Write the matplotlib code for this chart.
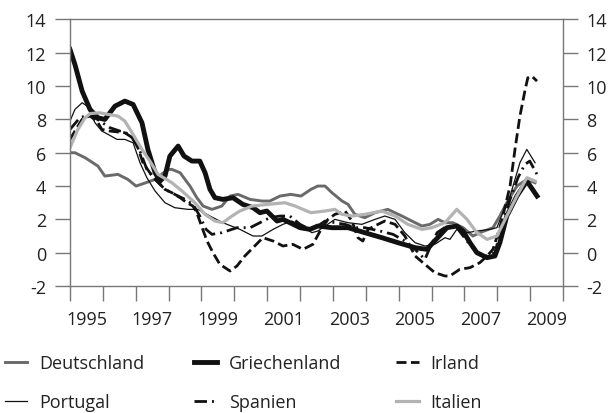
import matplotlib
matplotlib.use("Agg")
import matplotlib.pyplot as plt

plt.rcParams['font.family'] = ['Open Sans', 'DejaVu Sans']
plt.rcParams['axes.unicode_minus'] = False

# Monatswerte, x in Jahren
de_x = [1995.00, 1995.15, 1995.46, 1995.85, 1996.06, 1996.46, 1996.76, 1997.01, 1997.31, 1997.59,
        1997.98, 1998.10, 1998.35, 1998.65, 1998.86, 1999.05, 1999.32, 1999.62, 1999.87, 2000.11,
        2000.48, 2000.84, 2001.08, 2001.39, 2001.72, 2002.03, 2002.33, 2002.54, 2002.76, 2002.97,
        2003.28, 2003.46, 2003.67, 2003.97, 2004.28, 2004.67, 2005.10, 2005.40, 2005.71, 2005.95,
        2006.20, 2006.41, 2006.65, 2006.96, 2007.26, 2007.47, 2007.87, 2008.08, 2008.29, 2008.60,
        2008.90, 2009.15]
de_y = [6.0, 6.0, 5.7, 5.2, 4.6, 4.7, 4.4, 4.0, 4.2, 4.4,
        5.0, 5.0, 4.8, 4.0, 3.3, 2.8, 2.6, 2.8, 3.4, 3.5,
        3.2, 3.1, 3.1, 3.4, 3.5, 3.4, 3.8, 4.0, 4.0, 3.6,
        3.1, 2.9, 2.3, 2.1, 2.4, 2.6, 2.2, 1.9, 1.6, 1.7,
        2.0, 1.8, 1.8, 1.5, 1.0, 1.2, 1.5, 2.2, 3.0, 4.0,
        4.4, 4.2]

gr_x = [1995.00, 1995.15, 1995.37, 1995.61, 1995.85, 1996.06, 1996.37, 1996.67, 1996.92, 1997.19,
        1997.37, 1997.59, 1997.74, 1997.89, 1998.04, 1998.29, 1998.47, 1998.71, 1998.95, 1999.11,
        1999.26, 1999.41, 1999.65, 1999.96, 2000.26, 2000.57, 2000.78, 2000.99, 2001.30, 2001.48,
        2001.69, 2002.00, 2002.30, 2002.54, 2002.97, 2003.46, 2003.97, 2004.49, 2004.98, 2005.50,
        2005.86, 2006.47, 2006.77, 2006.96, 2007.17, 2007.38, 2007.69, 2007.93, 2008.08, 2008.29,
        2008.60, 2008.90, 2009.21]
gr_y = [12.2, 11.3, 9.7, 8.6, 8.1, 8.0, 8.8, 9.1, 8.9, 7.8,
        6.2, 4.8, 4.3, 4.6, 5.8, 6.4, 5.8, 5.5, 5.5, 4.8,
        3.8, 3.3, 3.2, 3.3, 2.9, 2.7, 2.4, 2.5, 1.9, 2.0,
        1.8, 1.5, 1.4, 1.6, 1.5, 1.5, 1.2, 0.9, 0.6, 0.3,
        0.2, 1.5, 1.6, 1.3, 0.6, 0.0, -0.3, -0.2, 0.6, 2.2,
        3.4, 4.3, 3.4]

ie_x = [1995.00, 1995.21, 1995.40, 1995.61, 1995.82, 1995.97, 1996.22, 1996.67, 1996.98, 1997.22,
        1997.43, 1997.65, 1997.89, 1998.10, 1998.35, 1998.56, 1998.74, 1998.86, 1999.02, 1999.17,
        1999.35, 1999.56, 1999.87, 2000.08, 2000.32, 2000.57, 2000.87, 2001.18, 2001.48, 2001.78,
        2002.09, 2002.39, 2002.64, 2002.85, 2003.06, 2003.37, 2003.58, 2003.76, 2003.91, 2004.07,
        2004.37, 2004.58, 2004.89, 2005.19, 2005.50, 2005.80, 2006.10, 2006.41, 2006.56, 2006.86,
        2007.17, 2007.47, 2007.69, 2007.87, 2008.08, 2008.17, 2008.39, 2008.54, 2008.69, 2008.84,
        2008.93, 2009.05, 2009.21]
ie_y = [6.8, 7.5, 8.1, 8.2, 7.9, 7.4, 7.3, 7.2, 6.8, 5.4,
        4.8, 4.3, 3.8, 3.6, 3.3, 3.0, 2.8, 2.4, 1.5, 0.7,
        0.0, -0.7, -1.1, -0.8, -0.2, 0.3, 0.9, 0.7, 0.4, 0.5,
        0.2, 0.5, 1.4, 2.0, 2.3, 2.5, 1.9, 0.9, 0.7, 1.4,
        1.7, 1.9, 1.7, 1.0, -0.2, -0.7, -1.2, -1.4, -1.4, -1.0,
        -0.9, -0.6, -0.2, 0.2, 1.5, 2.2, 4.0, 6.2, 8.2, 9.7,
        10.5, 10.6, 10.3]

pt_x = [1995.00, 1995.15, 1995.37, 1995.52, 1995.76, 1995.97, 1996.16, 1996.43, 1996.67, 1996.92,
        1997.13, 1997.34, 1997.59, 1997.89, 1998.19, 1998.59, 1998.89, 1999.26, 1999.65, 2000.17,
        2000.57, 2000.84, 2001.18, 2001.48, 2001.75, 2002.06, 2002.36, 2002.54, 2003.06, 2003.46,
        2003.88, 2004.28, 2004.58, 2004.89, 2005.19, 2005.50, 2005.80, 2006.10, 2006.41, 2006.56,
        2006.77, 2007.08, 2007.38, 2007.78, 2007.99, 2008.17, 2008.39, 2008.69, 2008.90, 2009.15]
pt_y = [7.9, 8.6, 9.0, 8.8, 7.8, 7.3, 7.1, 6.8, 6.8, 6.6,
        5.4, 4.5, 3.7, 3.0, 2.7, 2.6, 2.6, 2.2, 1.8, 1.4,
        1.0, 1.0, 1.4, 1.7, 1.9, 1.6, 1.2, 1.3, 2.0, 1.8,
        1.7, 2.0, 2.2, 2.0, 1.2, 0.6, 0.4, 0.5, 0.9, 0.8,
        1.4, 1.2, 1.3, 1.4, 1.5, 2.4, 3.4, 5.4, 6.2, 5.4]

es_x = [1995.00, 1995.30, 1995.61, 1995.91, 1996.22, 1996.52, 1996.83, 1997.13, 1997.34, 1997.59,
        1997.89, 1998.19, 1998.50, 1998.74, 1998.95, 1999.14, 1999.32, 1999.62, 2000.08, 2000.48,
        2000.78, 2001.08, 2001.39, 2001.69, 2002.00, 2002.30, 2002.54, 2002.76, 2003.06, 2003.37,
        2003.67, 2003.97, 2004.43, 2004.83, 2005.19, 2005.50, 2005.80, 2005.95, 2006.17, 2006.47,
        2006.77, 2007.08, 2007.38, 2007.69, 2007.93, 2008.14, 2008.39, 2008.63, 2008.84, 2008.99,
        2009.21]
es_y = [7.4, 8.1, 8.3, 7.9, 7.5, 7.3, 7.1, 6.1, 5.0, 4.4,
        3.8, 3.5, 3.2, 2.9, 2.2, 1.4, 1.1, 1.2, 1.5, 1.5,
        1.8, 2.1, 2.2, 2.2, 1.7, 1.4, 1.6, 1.9, 1.8, 1.7,
        1.5, 1.5, 1.3, 1.1, 0.7, 0.2, -0.4, 0.3, 1.2, 1.6,
        1.5, 0.7, 0.0, -0.2, 0.0, 1.6, 3.2, 4.5, 5.3, 5.5,
        4.7]

it_x = [1995.00, 1995.24, 1995.46, 1995.61, 1995.91, 1996.16, 1996.46, 1996.67, 1996.89, 1997.19,
        1997.43, 1997.68, 1998.10, 1998.41, 1998.80, 1999.11, 1999.41, 1999.65, 1999.93, 2000.17,
        2000.54, 2001.03, 2001.54, 2001.85, 2002.33, 2002.76, 2003.06, 2003.28, 2003.58, 2003.97,
        2004.49, 2004.89, 2005.28, 2005.71, 2006.01, 2006.41, 2006.77, 2007.08, 2007.38, 2007.69,
        2007.99, 2008.29, 2008.60, 2008.90, 2009.15]
it_y = [6.3, 7.4, 8.1, 8.35, 8.4, 8.3, 8.2, 7.9, 7.2, 6.2,
        5.5, 4.7, 4.2, 3.7, 3.0, 2.3, 1.9, 1.8, 2.2, 2.5,
        2.8, 2.9, 3.0, 2.8, 2.4, 2.5, 2.6, 2.3, 2.2, 2.3,
        2.5, 2.2, 1.7, 1.4, 1.5, 1.8, 2.6, 2.0, 1.2, 0.8,
        1.0, 2.2, 3.4, 4.5, 4.3]

years = list(range(1995, 2011))
label_years = list(range(1995, 2010, 2))
y_ticks = list(range(-2, 15, 2))

fig = plt.figure(figsize=(6.15, 4.14), dpi=100)
ax = fig.add_axes([0.1138, 0.3068, 0.9154 - 0.1138, 0.9505 - 0.3068])

series = [
    ("Deutschland", de_x, de_y, dict(color="#6a6a6a", lw=2.1, ls="-")),
    ("Griechenland", gr_x, gr_y, dict(color="#111111", lw=3.5, ls="-")),
    ("Irland", ie_x, ie_y, dict(color="#111111", lw=2.0, ls=(0, (3.6, 1.6)))),
    ("Portugal", pt_x, pt_y, dict(color="#111111", lw=0.9, ls="-")),
    ("Spanien", es_x, es_y, dict(color="#111111", lw=2.0, ls=(0, (4.5, 1.8, 0.7, 1.8)))),
    ("Italien", it_x, it_y, dict(color="#b3b3b3", lw=2.3, ls="-")),
]

handles = {}
for name, xs, ys, style in series:
    line, = ax.plot(xs, ys, solid_joinstyle="round", dash_capstyle="butt", **style)
    handles[name] = line

ax.set_xlim(1995, 2010)
ax.set_ylim(-2, 14)

spine_col = "#777777"
for s in ax.spines.values():
    s.set_color(spine_col)
    s.set_linewidth(1.0)

ax.set_yticks(y_ticks)
ax.set_yticklabels([str(v) for v in y_ticks])
ax.tick_params(axis="y", which="major", direction="out", length=11, width=1.0,
               color=spine_col, left=True, right=True, labelleft=True, labelright=True,
               labelsize=13, labelcolor="#222222", pad=6)

ax.set_xticks(years)
ax.set_xticklabels([])
ax.set_xticks([y + 0.5 for y in label_years], minor=True)
ax.set_xticklabels([str(y) for y in label_years], minor=True)
ax.tick_params(axis="x", which="major", direction="out", length=11, width=1.0, color=spine_col)
ax.tick_params(axis="x", which="minor", length=0, labelsize=13, labelcolor="#222222", pad=17)

# Legende: drei Spalten mit je zwei Einträgen
columns = [("Deutschland", "Portugal", 0.008),
           ("Griechenland", "Spanien", 0.316),
           ("Irland", "Italien", 0.644)]
for top, bottom, xpos in columns:
    leg = fig.legend([handles[top], handles[bottom]], [top, bottom],
                     loc="upper left", bbox_to_anchor=(xpos, 0.142), frameon=False,
                     fontsize=13, handlelength=1.25, handletextpad=0.65,
                     labelspacing=1.15, borderaxespad=0, borderpad=0)
    for t in leg.get_texts():
        t.set_color("#222222")

fig.savefig("out.png", dpi=100)
